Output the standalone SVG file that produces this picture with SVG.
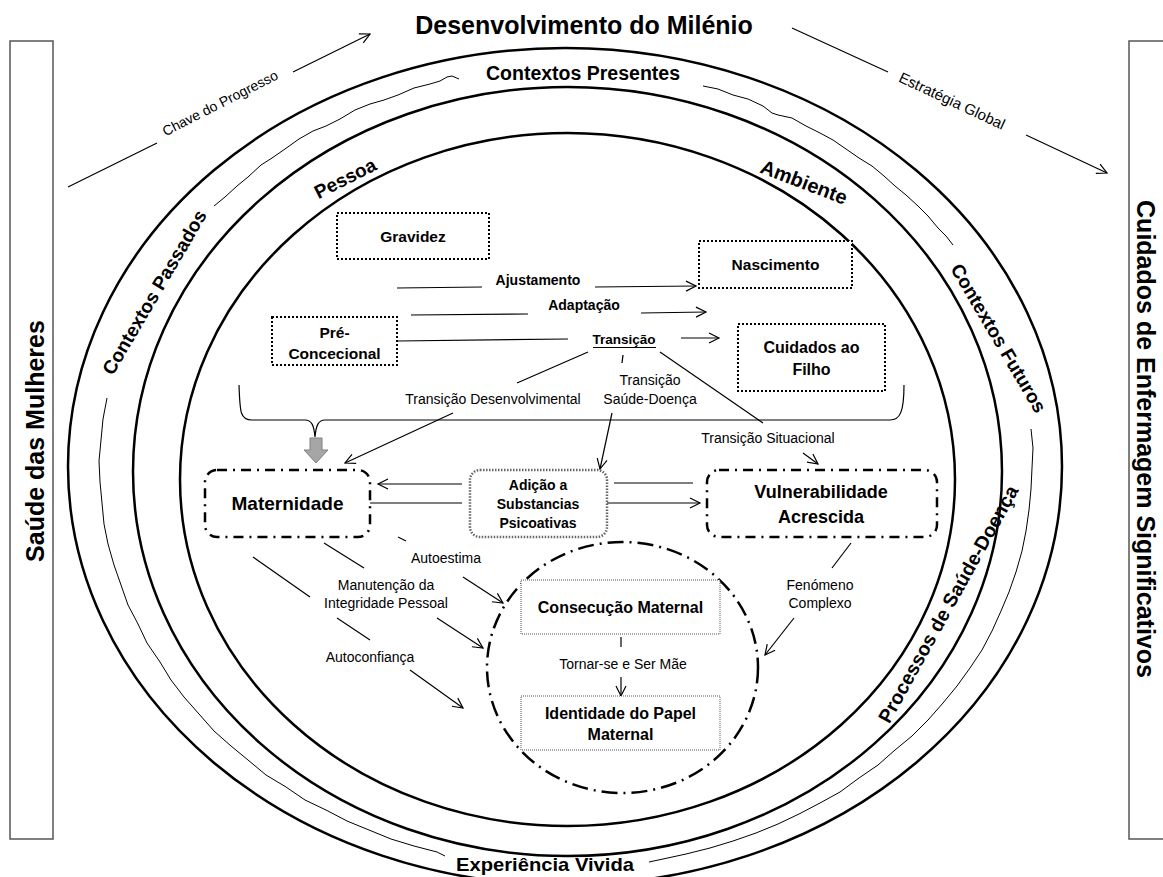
<svg xmlns="http://www.w3.org/2000/svg" width="1163" height="877" viewBox="0 0 1163 877">
<style>
text{font-family:"Liberation Sans",Arial,sans-serif;fill:#000}
.b{font-weight:bold}
.t14{font-size:14px}
.ell{fill:none;stroke:#000;stroke-width:2.5}
.wav{fill:none;stroke:#000;stroke-width:1;stroke-linejoin:round}
.ln{fill:none;stroke:#000;stroke-width:1.2}
.arr{fill:none;stroke:#000;stroke-width:1.2;marker-end:url(#ah)}
.dot{fill:#fff;stroke:#000;stroke-width:2;stroke-dasharray:2 2}
.dd{fill:#fff;stroke:#000;stroke-width:2.5;stroke-dasharray:10 6 2 6}
.gd{fill:#fff;stroke:#666;stroke-width:2.5;stroke-dasharray:1.5 1.5}
.thin{fill:#fff;stroke:#555;stroke-width:1;stroke-dasharray:1 1}
.side{fill:#fff;stroke:#555;stroke-width:1.5}
</style>
<defs>
<marker id="ah" markerUnits="userSpaceOnUse" markerWidth="14" markerHeight="14" refX="11" refY="6" orient="auto">
<path d="M1,1 L11,6 L1,11" fill="none" stroke="#000" stroke-width="1.2"/>
</marker>
</defs>
<rect width="1163" height="877" fill="#fff"/>

<g id="side-left">
<rect class="side" x="10" y="41" width="43" height="798"/>
<text class="b" font-size="25" transform="translate(44,441) rotate(-90)" text-anchor="middle">Saúde das Mulheres</text>
</g>
<g id="side-right">
<rect class="side" x="1129" y="41" width="45" height="798"/>
<text class="b" font-size="25" transform="translate(1137,439) rotate(90)" text-anchor="middle">Cuidados de Enfermagem Significativos</text>
</g>

<g id="rings">
<ellipse class="ell" cx="565" cy="466.5" rx="497" ry="418.5"/>
<ellipse class="ell" cx="567.5" cy="471.5" rx="434.5" ry="384.5"/>
<ellipse class="ell" cx="567.5" cy="479.5" rx="387.5" ry="346.5"/>
<path class="wav" d="M214,206 L225,197 L237,186 L248,177 L261,165 L272,158 L285,149 L299,139 L313,131 L326,126 L340,119 L355,110 L370,104 L384,100 L398,95 L414,88 L430,84 L440,81 L447,77 L452,76 L459,79"/>
<path class="wav" d="M703,86 L718,89 L733,95 L748,99 L763,106 L772,113 L778,115 L792,118 L806,126 L820,133 L833,140 L846,149 L859,158 L872,166 L884,176 L895,186 L906,195 L918,206 L928,216 L938,228 L946,236 L953,245"/>
<path class="wav" d="M107,398 L103,419 L101,440 L99,461 L100,482 L102,503 L104,524 L108,544 L114,565 L121,585 L128,605 L138,624 L147,643 L160,662 L171,680 L184,697 L199,714 L214,731 L231,746 L248,760 L266,775 L286,787 L305,800 L326,810 L347,821 L369,830 L391,839 L414,846 L437,852 L445,856"/>
<path class="wav" d="M1031,429 L1033,448 L1032,468 L1031,489 L1029,510 L1026,531 L1022,551 L1016,572 L1009,592 L1001,611 L992,631 L982,650 L970,668 L957,686 L943,703 L928,720 L912,736 L895,750 L878,765 L859,778 L840,792 L820,803 L799,814 L778,824 L756,833 L733,841 L710,848 L686,854 L663,859 L649,862"/>
</g>

<g id="title">
<text class="b" font-size="25" x="584" y="34" text-anchor="middle">Desenvolvimento do Milénio</text>
<text font-size="14" transform="translate(220,103) rotate(-27) translate(0,5)" text-anchor="middle">Chave do Progresso</text>
<text font-size="15" transform="translate(952,101) rotate(25) translate(0,5)" text-anchor="middle">Estratégia Global</text>
</g>

<g id="ring-labels" class="b">
<text font-size="19.5" x="583" y="80" text-anchor="middle">Contextos Presentes</text>
<text font-size="19" transform="translate(154,292) rotate(-59.6) translate(0,7)" text-anchor="middle">Contextos Passados</text>
<text font-size="19" transform="translate(999,338) rotate(59.5) translate(0,7)" text-anchor="middle">Contextos Futuros</text>
<text font-size="19" transform="translate(345,178) rotate(-27) translate(0,7)" text-anchor="middle">Pessoa</text>
<text font-size="20" transform="translate(804,182) rotate(21) translate(0,7)" text-anchor="middle">Ambiente</text>
<text font-size="19.5" transform="translate(948,604) rotate(-61) translate(0,7)" text-anchor="middle">Processos de Saúde-Doença</text>
<text font-size="19" x="545" y="871" text-anchor="middle" textLength="178" lengthAdjust="spacingAndGlyphs">Experiência Vivida</text>
</g>

<g id="connectors">
<line class="ln" x1="68" y1="187" x2="157" y2="143"/>
<line class="arr" x1="293" y1="72" x2="370" y2="34"/>
<line class="ln" x1="792" y1="28" x2="888" y2="72"/>
<line class="arr" x1="1026" y1="135" x2="1107" y2="173"/>
<line class="ln" x1="397" y1="288" x2="482" y2="287"/>
<line class="arr" x1="595" y1="287" x2="696" y2="286"/>
<line class="ln" x1="411" y1="315" x2="528" y2="314"/>
<line class="arr" x1="641" y1="313" x2="706" y2="312"/>
<line class="ln" x1="397" y1="341" x2="568" y2="339"/>
<line class="arr" x1="681" y1="338" x2="719" y2="338"/>
<line class="ln" x1="593" y1="347.5" x2="656" y2="347.5" stroke-width="1.8"/>
<line class="ln" x1="588" y1="352" x2="517" y2="383"/>
<line class="arr" x1="453" y1="413" x2="345" y2="463"/>
<line class="ln" x1="623" y1="355" x2="622" y2="363"/>
<line class="arr" x1="612" y1="413" x2="600" y2="469"/>
<line class="ln" x1="660" y1="352" x2="763" y2="423"/>
<line class="arr" x1="803" y1="453" x2="818" y2="464"/>
<path class="ln" d="M239,385 C240,412 240,420 252,420 L305,420 C312,420 314,426 315,437 C316,426 318,420 325,420 L890,420 C900,420 904,412 904,385"/>
<polygon points="310,438 322,438 322,450 328,450 316,463 304,450 310,450" fill="#a6a6a6" stroke="#808080" stroke-width="1"/>
<line class="arr" x1="462" y1="484" x2="378" y2="484"/>
<line class="ln" x1="370" y1="503" x2="462" y2="503"/>
<line class="ln" x1="614" y1="483" x2="693" y2="483"/>
<line class="arr" x1="607" y1="503" x2="700" y2="503"/>
<line class="ln" x1="398" y1="537" x2="406" y2="541"/>
<line class="arr" x1="463" y1="577" x2="503" y2="603"/>
<line class="ln" x1="324" y1="543" x2="364" y2="568"/>
<line class="arr" x1="437" y1="618" x2="483" y2="648"/>
<line class="ln" x1="253" y1="557" x2="310" y2="597"/>
<line class="ln" x1="337" y1="618" x2="370" y2="640"/>
<line class="arr" x1="410" y1="670" x2="463" y2="708"/>
<line class="ln" x1="621" y1="637" x2="621" y2="647"/>
<line class="arr" x1="621" y1="677" x2="621" y2="696"/>
<line class="ln" x1="851" y1="543" x2="832" y2="568"/>
<line class="arr" x1="794" y1="618" x2="765" y2="655"/>
</g>

<g id="edge-labels" class="t14">
<text class="b" x="538" y="285" text-anchor="middle">Ajustamento</text>
<text class="b" x="584" y="310" text-anchor="middle">Adaptação</text>
<text class="b" x="624" y="344" text-anchor="middle" font-size="13.5">Transição</text>
<text x="493" y="404" text-anchor="middle">Transição Desenvolvimental</text>
<text x="650" y="385" text-anchor="middle">Transição</text>
<text x="650" y="404" text-anchor="middle">Saúde-Doença</text>
<text x="768" y="443" text-anchor="middle">Transição Situacional</text>
<text x="446" y="563" text-anchor="middle">Autoestima</text>
<text x="386" y="590" text-anchor="middle">Manutenção da</text>
<text x="386" y="608" text-anchor="middle">Integridade Pessoal</text>
<text x="370" y="662" text-anchor="middle">Autoconfiança</text>
<text x="623" y="669" text-anchor="middle">Tornar-se e Ser Mãe</text>
<text x="820" y="590" text-anchor="middle">Fenómeno</text>
<text x="820" y="608" text-anchor="middle">Complexo</text>
</g>

<g id="gravidez">
<rect class="dot" x="337" y="213" width="152" height="46"/>
<text class="b" font-size="15.5" x="413" y="241.5" text-anchor="middle">Gravidez</text>
</g>
<g id="nascimento">
<rect class="dot" x="699" y="241" width="153" height="47"/>
<text class="b" font-size="15.5" x="775.5" y="270" text-anchor="middle">Nascimento</text>
</g>
<g id="pre-concecional">
<rect class="dot" x="272" y="317" width="125" height="48"/>
<text class="b" font-size="15.5" x="334.5" y="338" text-anchor="middle">Pré-</text>
<text class="b" font-size="15.5" x="334.5" y="359" text-anchor="middle">Concecional</text>
</g>
<g id="cuidados-filho">
<rect class="dot" x="738" y="324" width="147" height="67"/>
<text class="b" font-size="16" x="811.5" y="353" text-anchor="middle">Cuidados ao</text>
<text class="b" font-size="16" x="811.5" y="375" text-anchor="middle">Filho</text>
</g>
<g id="maternidade">
<rect class="dd" x="205" y="470" width="165" height="67" rx="12"/>
<text class="b" font-size="19" x="287.5" y="510" text-anchor="middle">Maternidade</text>
</g>
<g id="adicao">
<rect class="gd" x="470" y="470" width="137" height="67" rx="10"/>
<text class="b" font-size="14" x="538" y="490" text-anchor="middle">Adição a</text>
<text class="b" font-size="14" x="538" y="509" text-anchor="middle">Substancias</text>
<text class="b" font-size="14" x="538" y="528" text-anchor="middle">Psicoativas</text>
</g>
<g id="vulnerabilidade">
<rect class="dd" x="707" y="470" width="230" height="67" rx="12"/>
<text class="b" font-size="18" x="821" y="498" text-anchor="middle">Vulnerabilidade</text>
<text class="b" font-size="18" x="821" y="523" text-anchor="middle">Acrescida</text>
</g>
<g id="circulo-materno">
<ellipse cx="622.5" cy="667.5" rx="135.5" ry="125.5" fill="none" stroke="#000" stroke-width="2.5" stroke-dasharray="16 6 2 6"/>
</g>
<g id="consecucao">
<rect class="thin" x="521" y="580" width="199" height="54"/>
<text class="b" font-size="16" x="620.5" y="613" text-anchor="middle">Consecução Maternal</text>
</g>
<g id="identidade">
<rect class="thin" x="521" y="696" width="199" height="54"/>
<text class="b" font-size="16" x="620.5" y="719" text-anchor="middle">Identidade do Papel</text>
<text class="b" font-size="16" x="620.5" y="740" text-anchor="middle">Maternal</text>
</g>
</svg>
